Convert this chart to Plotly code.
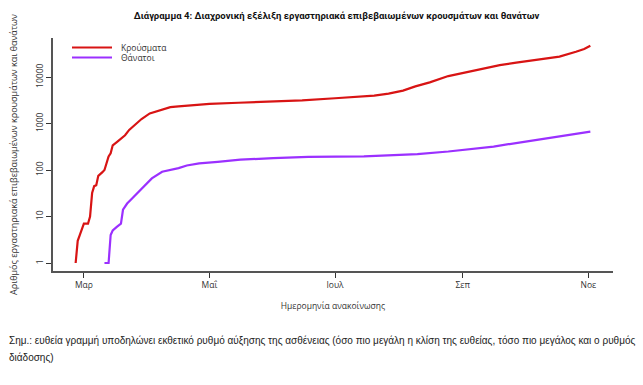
import plotly.graph_objects as go

# ---- data ----
case_dates = ["2020-02-26","2020-02-27","2020-02-28","2020-03-01","2020-03-03","2020-03-04",
              "2020-03-05","2020-03-06","2020-03-07","2020-03-08","2020-03-10","2020-03-11",
              "2020-03-12","2020-03-13","2020-03-14","2020-03-15","2020-03-17","2020-03-19",
              "2020-03-21","2020-03-23","2020-03-26","2020-03-29","2020-04-02","2020-04-06",
              "2020-04-09","2020-04-12","2020-04-16","2020-04-21","2020-04-24","2020-05-01",
              "2020-05-15","2020-05-30","2020-06-15","2020-07-01","2020-07-10","2020-07-20",
              "2020-07-27","2020-08-03","2020-08-09","2020-08-16","2020-08-25",
              "2020-09-01","2020-09-09","2020-09-19","2020-09-27","2020-10-05","2020-10-12",
              "2020-10-18","2020-10-26","2020-10-30","2020-11-02"]
case_values = [1, 3, 4, 7, 7, 10,
               32, 45, 47, 75, 90, 100,
               140, 195, 230, 340, 400, 470,
               560, 730, 950, 1250, 1650, 1850,
               2050, 2250, 2350, 2450, 2550, 2650,
               2800, 2950, 3150, 3500, 3700, 4000,
               4400, 5100, 6300, 7700, 10500,
               12200, 14500, 18000, 20500, 23000, 25500,
               27500, 35000, 40000, 47000]

death_dates = ["2020-03-11","2020-03-13","2020-03-14","2020-03-15","2020-03-17","2020-03-19",
               "2020-03-20","2020-03-22","2020-03-25","2020-03-27","2020-03-31","2020-04-03",
               "2020-04-08","2020-04-12","2020-04-16","2020-04-20","2020-04-26","2020-05-05",
               "2020-05-16","2020-06-01","2020-06-18","2020-07-15","2020-07-28","2020-08-10",
               "2020-08-25","2020-09-05","2020-09-16","2020-09-30","2020-10-10","2020-10-20",
               "2020-11-02"]
death_values = [1, 1, 4, 5, 6, 7,
                14, 19, 26, 32, 47, 66,
                92, 100, 110, 125, 139, 150,
                167, 180, 192, 196, 205, 220,
                250, 285, 320, 400, 470, 540,
                670]

x_tick_vals = ["2020-03-01", "2020-05-01", "2020-07-01", "2020-09-01", "2020-11-01"]
x_tick_text = ["Μαρ", "Μαΐ", "Ιουλ", "Σεπ", "Νοε"]
y_tick_vals = [1, 10, 100, 1000, 10000]
y_tick_text = ["1", "10", "100", "1000", "10000"]

series_names = ["Κρούσματα", "Θάνατοι"]
series_colors = ["#d81414", "#9b30ff"]
title_text = "Διάγραμμα 4: Διαχρονική εξέλιξη εργαστηριακά επιβεβαιωμένων κρουσμάτων και θανάτων"
x_title = "Ημερομηνία ανακοίνωσης"
y_title = "Αριθμός εργαστηριακά επιβεβαιωμένων κρουσμάτων και θανάτων"
note_lines = ["Σημ.: ευθεία γραμμή υποδηλώνει εκθετικό ρυθμό αύξησης της ασθένειας (όσο πιο μεγάλη η κλίση της ευθείας, τόσο πιο μεγάλος και ο ρυθμός",
              "διάδοσης)"]

FONT = "Open Sans"
W, H = 643, 385
ML, MR, MT, MB = 53, 30, 38, 114
PW, PH = W - ML - MR, H - MT - MB


def px_x(px):
    return (px - ML) / PW


def px_y(py):
    return (H - MB - py) / PH


fig = go.Figure()
fig.add_trace(go.Scatter(x=case_dates, y=case_values, mode="lines", name=series_names[0],
                         line=dict(color=series_colors[0], width=2.2)))
fig.add_trace(go.Scatter(x=death_dates, y=death_values, mode="lines", name=series_names[1],
                         line=dict(color=series_colors[1], width=2.2)))

fig.update_layout(
    width=W, height=H,
    margin=dict(l=ML, r=MR, t=MT, b=MB),
    paper_bgcolor="white", plot_bgcolor="white",
    font=dict(family=FONT, size=9, color="#333333"),
    title=dict(text="<b>" + title_text + "</b>", x=336.5 / W, xref="container", xanchor="center",
               y=1 - 16 / H, yref="container", yanchor="middle",
               font=dict(family="Roboto", size=9.5, color="#111111")),
    showlegend=False,
    xaxis=dict(type="date", range=["2020-02-15", "2020-11-13"], automargin=False,
               tickvals=x_tick_vals, ticktext=x_tick_text,
               showgrid=False, zeroline=False,
               showline=True, linecolor="#555555", linewidth=1.5,
               ticks="outside", ticklen=5, tickcolor="#333333", tickwidth=1,
               tickfont=dict(size=8.5, color="#333333"),
               title=dict(text=x_title, font=dict(size=8.5, color="#333333"), standoff=14)),
    yaxis=dict(type="log", range=[-0.172, 4.84], automargin=False,
               tickvals=y_tick_vals, ticktext=y_tick_text, tickangle=-90,
               showgrid=False, zeroline=False,
               showline=True, linecolor="#555555", linewidth=1.5,
               ticks="outside", ticklen=5, tickcolor="#333333", tickwidth=1,
               tickfont=dict(size=8.5, color="#333333"),
               title=dict(text=y_title, font=dict(size=9, color="#333333"), standoff=15)),
)

# manual legend (line samples + labels)
legend_y = [47.5, 57.5]
for name, color, ly in zip(series_names, series_colors, legend_y):
    fig.add_shape(type="line", xref="paper", yref="paper",
                  x0=px_x(72), x1=px_x(112), y0=px_y(ly), y1=px_y(ly),
                  line=dict(color=color, width=2.2))
    fig.add_annotation(text=name, xref="paper", yref="paper", x=px_x(119), y=px_y(ly),
                       xanchor="left", yanchor="middle", showarrow=False,
                       font=dict(size=8.5, color="#333333"))

# note below the chart
for line, ny in zip(note_lines, [341, 357.5]):
    fig.add_annotation(text=line, xref="paper", yref="paper", x=px_x(7), y=px_y(ny),
                       xanchor="left", yanchor="middle", align="left", showarrow=False,
                       font=dict(family="Liberation Sans", size=10, color="#222222"))

# remove the browser's default page margin so the figure sits at (0, 0)
fig.write_html("out.html",
               config={"displayModeBar": False},
               post_script="document.body.style.margin='0';document.body.style.overflow='hidden';")
